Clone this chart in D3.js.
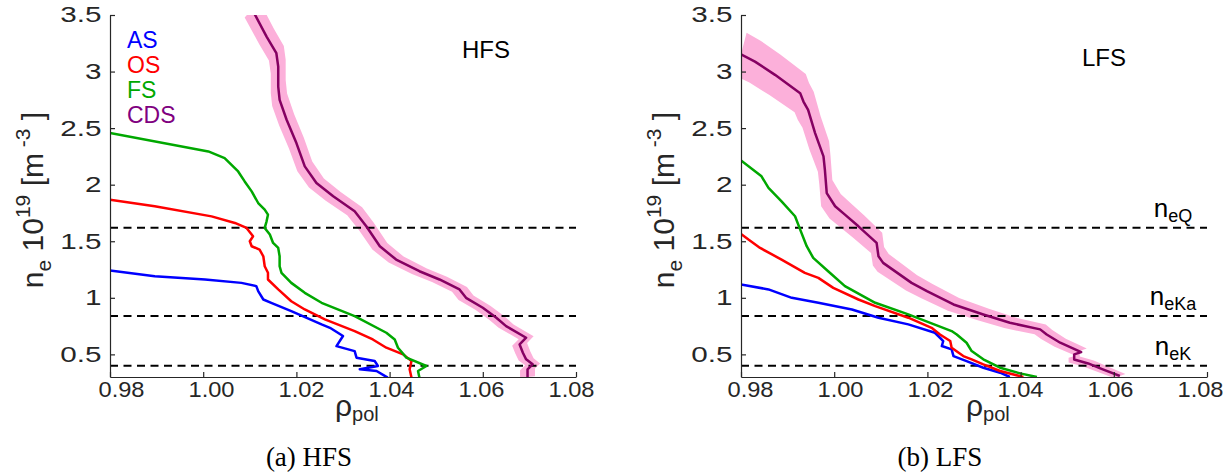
<!DOCTYPE html>
<html>
<head>
<meta charset="utf-8">
<script src="https://cdn.jsdelivr.net/npm/d3@7"></script>
<style>
  body { margin: 0; background: #fff; }
  text { font-family: "Liberation Sans", Arial, sans-serif; }
</style>
</head>
<body>
<svg id="chart" width="1232" height="475"></svg>
<script>
// [rho_pol, n_e (1e19 m^-3)]
const hfsAS = [[0.98,1.241],[0.9896,1.191],[1.0004,1.162],[1.0082,1.132],[1.0114,1.103],[1.0118,1.059],[1.0129,0.985],[1.0146,0.956],[1.0189,0.882],[1.0254,0.765],[1.0272,0.735],[1.0300,0.662],[1.0286,0.573],[1.0325,0.529],[1.0329,0.471],[1.0368,0.441],[1.0375,0.397],[1.0336,0.368],[1.0372,0.353],[1.0396,0.294]];
const hfsOS = [[0.98,1.868],[0.9896,1.809],[1.0018,1.720],[1.0068,1.662],[1.0093,1.618],[1.0107,1.544],[1.0100,1.500],[1.0104,1.456],[1.0121,1.426],[1.0129,1.367],[1.0132,1.279],[1.0139,1.221],[1.0139,1.162],[1.0161,1.074],[1.0189,0.970],[1.0218,0.897],[1.0261,0.809],[1.0325,0.706],[1.0364,0.632],[1.0393,0.559],[1.0429,0.500],[1.0447,0.441],[1.0443,0.368],[1.0447,0.294]];
const hfsFS = [[0.98,2.456],[1.0011,2.294],[1.0046,2.235],[1.0075,2.117],[1.0089,2.029],[1.0104,1.941],[1.0118,1.838],[1.0132,1.779],[1.0139,1.735],[1.0136,1.676],[1.0132,1.618],[1.0143,1.559],[1.0150,1.485],[1.0161,1.441],[1.0164,1.367],[1.0164,1.279],[1.0168,1.221],[1.0189,1.132],[1.0218,1.044],[1.0254,0.956],[1.0325,0.838],[1.0393,0.691],[1.0411,0.632],[1.0418,0.559],[1.0436,0.471],[1.0479,0.397],[1.0461,0.353],[1.0464,0.294]];
const hfsCDS = [[1.0105,3.55],[1.0136,3.309],[1.0157,3.162],[1.0161,3.044],[1.0161,2.867],[1.0164,2.750],[1.0179,2.574],[1.0200,2.368],[1.0218,2.162],[1.0243,2.015],[1.0279,1.897],[1.0325,1.765],[1.0350,1.632],[1.0379,1.456],[1.0414,1.338],[1.0464,1.235],[1.0507,1.162],[1.0550,1.074],[1.0564,1.000],[1.0600,0.912],[1.0629,0.824],[1.0650,0.750],[1.0693,0.647],[1.0679,0.588],[1.0686,0.515],[1.0693,0.456],[1.0707,0.412],[1.0696,0.368],[1.0696,0.300]];

const lfsAS = [[0.98,1.118],[0.9859,1.074],[0.9909,1.000],[0.9966,0.956],[1.0038,0.897],[1.0095,0.824],[1.0159,0.765],[1.0216,0.691],[1.0227,0.647],[1.0234,0.618],[1.0231,0.574],[1.0252,0.544],[1.0256,0.485],[1.0284,0.441],[1.0320,0.382],[1.0356,0.338],[1.0377,0.300]];
const lfsOS = [[0.98,1.565],[0.9816,1.515],[0.9841,1.441],[0.9887,1.338],[0.9937,1.221],[0.9966,1.176],[0.9998,1.088],[1.0052,0.985],[1.0088,0.926],[1.0159,0.824],[1.0209,0.735],[1.0227,0.676],[1.0249,0.618],[1.0252,0.559],[1.0277,0.485],[1.0295,0.456],[1.0320,0.412],[1.0356,0.353],[1.0406,0.300]];
const lfsFS = [[0.98,2.215],[0.9844,2.074],[0.9859,1.971],[0.9887,1.853],[0.9916,1.721],[0.9927,1.603],[0.9941,1.456],[0.9955,1.353],[0.9987,1.235],[1.0023,1.103],[1.0088,0.956],[1.0159,0.853],[1.0252,0.706],[1.0263,0.676],[1.0284,0.603],[1.0295,0.529],[1.0320,0.456],[1.0356,0.382],[1.0399,0.332],[1.0435,0.300]];
const lfsCDS = [[0.98,3.153],[0.9830,3.088],[0.9873,2.971],[0.9927,2.809],[0.9934,2.735],[0.9944,2.662],[0.9959,2.456],[0.9977,2.250],[0.9980,2.132],[0.9984,1.926],[1.0002,1.809],[1.0023,1.735],[1.0052,1.632],[1.0091,1.485],[1.0095,1.367],[1.0105,1.309],[1.0166,1.132],[1.0199,1.059],[1.0256,0.941],[1.0320,0.853],[1.0377,0.779],[1.0442,0.721],[1.0456,0.676],[1.0485,0.603],[1.0530,0.520],[1.0515,0.500],[1.0515,0.455],[1.0545,0.420],[1.0575,0.370],[1.0613,0.309]];

// CDS uncertainty: rho (absolute) and n_e (relative)
const hfsRhoErr = 0.0016, hfsNeErr = 0.02;
const lfsRhoErr = 0.0012, lfsNeErr = 0.06;

const xTicks = [0.98, 1.00, 1.02, 1.04, 1.06, 1.08];
const yTicks = [0.5, 1, 1.5, 2, 2.5, 3, 3.5];
const cutoffs = [1.62, 0.84, 0.40];
const cutoffNames = ['eQ', 'eKa', 'eK'];
const legendNames = ['AS', 'OS', 'FS', 'CDS'];
const colors = ['#0000ff', '#ff0000', '#00a800', '#800080'];
const cdsLine = '#850062', cdsBand = '#fcb0da';

const svg = d3.select('#chart');
const xStretch = 1.1, yStretch = 1.38;

function panel(p) {
  const g = svg.append('g');
  const x = d3.scaleLinear().domain([0.98, 1.08]).range([p.left, p.right]);
  const y = d3.scaleLinear().domain([0.3, 3.5]).range([p.bottom, p.top]);
  // tick labels sit on a slightly narrower row than the ticks
  const xLab = d3.scaleLinear().domain([0.98, 1.08]).range(p.labelRange);
  const line = d3.line().x(d => x(d[0])).y(d => y(d[1]));

  const clipId = 'clip-' + p.id;
  g.append('clipPath').attr('id', clipId)
    .append('rect').attr('x', p.left).attr('y', p.top)
    .attr('width', p.right - p.left).attr('height', p.bottom - p.top);

  const plot = g.append('g').attr('clip-path', `url(#${clipId})`);

  // error band around CDS profile
  const up = p.cds.map(([r, n]) => [r + p.ex, n * (1 + p.ey)]);
  const lo = p.cds.map(([r, n]) => [r - p.ex, n * (1 - p.ey)]).reverse();
  plot.append('path').attr('d', line(up.concat(lo)) + 'Z')
    .attr('fill', cdsBand).attr('stroke', 'none');

  // cutoff densities
  plot.selectAll('.cut').data(cutoffs).enter().append('line')
    .attr('x1', p.left).attr('x2', p.right)
    .attr('y1', d => y(d)).attr('y2', d => y(d))
    .attr('stroke', '#000').attr('stroke-width', 2).attr('stroke-dasharray', '8,5.5');

  p.series.forEach((s, i) => {
    plot.append('path').attr('d', line(s)).attr('fill', 'none')
      .attr('stroke', colors[i]).attr('stroke-width', 2.5).attr('stroke-linejoin', 'round');
  });
  plot.append('path').attr('d', line(p.cds)).attr('fill', 'none')
    .attr('stroke', cdsLine).attr('stroke-width', 2.5).attr('stroke-linejoin', 'round');

  // axes
  const ax = g.append('g').attr('transform', `translate(0,${p.bottom})`)
    .call(d3.axisBottom(x).tickValues(xTicks).tickFormat(d3.format('.2f'))
      .tickSizeInner(-5).tickSizeOuter(0).tickPadding(5));
  const ay = g.append('g').attr('transform', `translate(${p.left},0)`)
    .call(d3.axisLeft(y).tickValues(yTicks).tickFormat(d3.format('~g'))
      .tickSizeInner(-5).tickSizeOuter(0).tickPadding(9));
  [ax, ay].forEach(a => {
    a.select('.domain').attr('stroke', '#262626').attr('stroke-width', 1.2);
    a.selectAll('.tick line').attr('stroke', '#262626').attr('stroke-width', 1.2);
    a.selectAll('.tick text').attr('fill', '#262626')
      .style('font-size', '21.5px').style('font-family', '"Liberation Sans", Arial, sans-serif');
  });
  ax.selectAll('.tick text')
    .attr('transform', `scale(${xStretch},1)`)
    .attr('x', d => (xLab(d) - x(d)) / xStretch);
  ay.selectAll('.tick text')
    .attr('transform', `scale(${yStretch},1)`)
    .attr('x', -8.5 / yStretch);

  // y label
  const yl = g.append('text')
    .attr('transform', `translate(${p.left - 67},${(p.top + p.bottom) / 2 + 4}) rotate(-90)`)
    .attr('text-anchor', 'middle').attr('fill', '#262626').style('font-size', '30px');
  yl.append('tspan').text('n');
  yl.append('tspan').attr('dy', 8).style('font-size', '21px').text('e');
  yl.append('tspan').attr('dy', -8).text(' 10');
  yl.append('tspan').attr('dy', -13).style('font-size', '21px').text('19');
  yl.append('tspan').attr('dy', 13).text(' [m');
  yl.append('tspan').attr('dy', -13).style('font-size', '21px').text(' -3');
  yl.append('tspan').attr('dy', 13).text(' ]');

  // x label
  const xl = g.append('text')
    .attr('x', (p.left + p.right) / 2 - 8).attr('y', 416)
    .attr('fill', '#262626').style('font-size', '30px');
  xl.append('tspan').text('ρ');
  xl.append('tspan').attr('dy', 5).style('font-size', '20px').text('pol');

  g.append('text').attr('x', p.titleX).attr('y', p.titleY)
    .attr('fill', '#000').style('font-size', '24px').text(p.title);

  g.append('text').attr('x', p.capX).attr('y', 466).attr('text-anchor', 'middle')
    .attr('fill', '#000').style('font-size', '27px')
    .style('font-family', '"Liberation Serif", "DejaVu Serif", serif').text(p.caption);

  if (p.legend) {
    g.selectAll('.leg').data(legendNames).enter().append('text')
      .attr('x', p.left + 17).attr('y', (d, i) => 48 + i * 25)
      .attr('fill', (d, i) => colors[i]).style('font-size', '23px').text(d => d);
  }

  if (p.cutoffLabels) {
    cutoffs.forEach((c, i) => {
      const t = g.append('text').attr('x', 1173).attr('y', y(c) - 11)
        .attr('text-anchor', 'middle').attr('fill', '#000').style('font-size', '26px');
      t.append('tspan').text('n');
      t.append('tspan').attr('dy', 5).style('font-size', '18px').text(cutoffNames[i]);
    });
  }
}

panel({
  id: 'hfs', left: 110, right: 576, top: 15, bottom: 377, labelRange: [121, 571],
  series: [hfsAS, hfsOS, hfsFS], cds: hfsCDS, ex: hfsRhoErr, ey: hfsNeErr,
  title: 'HFS', titleX: 462, titleY: 58, caption: '(a) HFS', capX: 309,
  legend: true, cutoffLabels: false
});
panel({
  id: 'lfs', left: 741, right: 1207, top: 15, bottom: 377, labelRange: [750, 1200],
  series: [lfsAS, lfsOS, lfsFS], cds: lfsCDS, ex: lfsRhoErr, ey: lfsNeErr,
  title: 'LFS', titleX: 1082, titleY: 66, caption: '(b) LFS', capX: 940,
  legend: false, cutoffLabels: true
});
</script>
</body>
</html>
